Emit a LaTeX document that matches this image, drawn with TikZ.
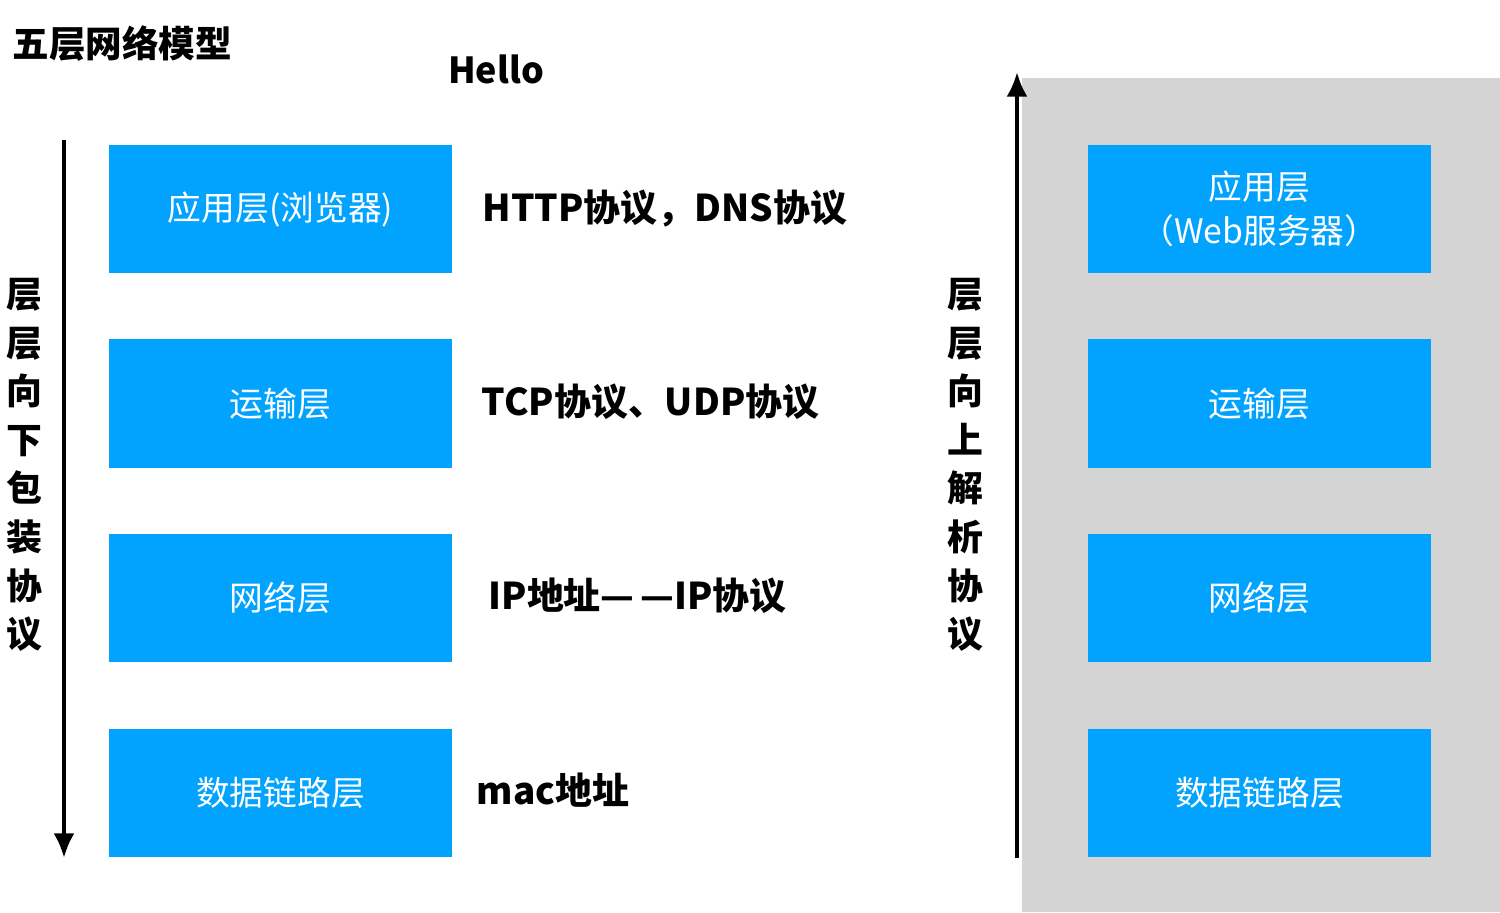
\documentclass[tikz,border=0pt]{standalone}
\usepackage{fontspec}
\setmainfont{Noto Sans CJK SC}
\usetikzlibrary{positioning,arrows.meta}

\definecolor{layerblue}{RGB}{2,163,254}
\definecolor{panelgray}{RGB}{212,212,212}

\tikzset{
  layer/.style={fill=layerblue, text=white, minimum width=3.43cm, minimum height=1.28cm,
    align=center, inner sep=0pt, font=\fontsize{9.6}{12.6}\selectfont},
  proto/.style={anchor=west, inner sep=0pt, font=\fontsize{10.5}{12}\selectfont\bfseries},
  vtext/.style={align=center, inner sep=0pt, font=\fontsize{10.2}{13.83}\selectfont\bfseries},
  flow/.style={line width=1.2pt, -{Latex[length=7pt,width=6pt]}}
}

\begin{document}
\begin{tikzpicture}[x=0.01cm, y=-0.01cm]
  \useasboundingbox (0,0) rectangle (1500,912);

  % Fondo del servidor
  \fill[panelgray] (1022,78) rectangle (1500,912);

  % Titulos
  \node[anchor=west, inner sep=0pt, font=\fontsize{10.4}{12}\selectfont\bfseries] (title) at (12,44) {五层网络模型};
  \node[inner sep=0pt, font=\fontsize{10.2}{12}\selectfont\bfseries] (hello) at (496,69) {Hello};

  % Capas del cliente
  \node[layer] (app) at (280.5,209) {应用层(浏览器)};
  \node[layer, below=0.65cm of app] (trans) {运输层};
  \node[layer, below=0.65cm of trans] (net) {网络层};
  \node[layer, below=0.65cm of net] (link) {数据链路层};

  % Capas del servidor
  \node[layer, right=6.34cm of app] (sapp) {应用层\\（Web服务器）};
  \node[layer, right=6.34cm of trans] (strans) {运输层};
  \node[layer, right=6.34cm of net] (snet) {网络层};
  \node[layer, right=6.34cm of link] (slink) {数据链路层};

  % Protocolos
  \node[proto] (http) at (482,209) {HTTP协议，DNS协议};
  \node[proto] (tcp) at (481,402) {TCP协议、UDP协议};
  \node[proto] (ip) at (488,596) {IP地址—\,—IP协议};
  \node[proto] (mac) at (476,790) {mac地址};

  % Flechas
  \coordinate (downtop) at (64,140);
  \coordinate (downbot) at (64,858);
  \coordinate (upbot) at (1017,858);
  \coordinate (uptop) at (1017,72);
  \draw[flow] (downtop) -- (downbot);
  \draw[flow] (upbot) -- (uptop);

  % Textos verticales
  \node[vtext] (pack) at (24,465) {层\\层\\向\\下\\包\\装\\协\\议};
  \node[vtext] (parse) at (965,465) {层\\层\\向\\上\\解\\析\\协\\议};
\end{tikzpicture}
\end{document}
